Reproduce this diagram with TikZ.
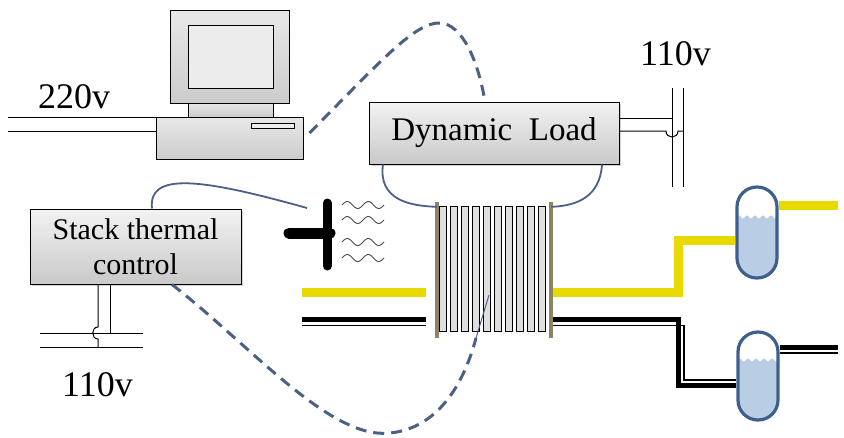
\documentclass[tikz,border=0pt]{standalone}
\usepackage{fontspec}
\setmainfont{Liberation Serif}
\usetikzlibrary{shadows}
\definecolor{wireblue}{HTML}{4A6185}
\definecolor{hyellow}{HTML}{E8DA00}
\definecolor{plategold}{HTML}{8C8660}
\definecolor{tankblue}{HTML}{3E5F8C}
\definecolor{waterblue}{HTML}{B9CDE5}
\begin{document}
\begin{tikzpicture}[x=1pt,y=-1pt,
  box/.style={draw,line width=1pt,top color=gray!10,bottom color=gray!42,
    drop shadow={shadow xshift=2pt,shadow yshift=-2pt,opacity=0.35}},
  pcpart/.style={draw,line width=1pt,top color=gray!18,bottom color=gray!40},
  wire/.style={color=wireblue,line width=1.8pt},
  link/.style={color=wireblue,line width=3pt,dash pattern=on 11pt off 7pt},
  power/.style={line width=1pt},
  htwo/.style={color=hyellow,line width=9pt},
  otwo/.style={line width=5pt},
  otworail/.style={line width=1.2pt},
  blade/.style={line cap=round},
  tank/.style={draw=tankblue,line width=3.2pt,rounded corners=19.9pt,
    minimum width=40pt,inner sep=0pt},
  volt/.style={font=\fontsize{36}{40}\selectfont,anchor=base west,inner sep=0pt}]
\useasboundingbox (0,0) rectangle (844,437);

% computer
\draw[pcpart] (170,10) rectangle (289,103);
\draw[line width=1pt,fill=gray!15] (188,25) rectangle (273,88);
\draw[pcpart] (188,103) rectangle (273,117);
\node[pcpart,minimum width=147pt,minimum height=42pt,inner sep=0pt] (pc) at (229.5,138) {};
\draw[line width=1pt,fill=gray!15] (251,123) rectangle (294,128);
\node[volt] (v220) at (38,108) {220v};
\coordinate (plugA) at (8,117);
\coordinate (plugB) at (8,131);
\draw[power] (plugA) -- (plugA -| pc.west);
\draw[power] (plugB) -- (plugB -| pc.west);

% boxes
\node[box,minimum width=250pt,minimum height=62pt,font=\fontsize{33}{36}\selectfont] (load) at (494,133) {Dynamic\ \ Load};
\node[box,minimum width=211pt,minimum height=75pt,align=center,font=\fontsize{30}{35}\selectfont] (thermal) at (135.5,246.5) {Stack thermal\\control};

% 110v supply of the load
\node[volt] (v110a) at (640,65) {110v};
\draw[power] (672,88) -- (672,187);
\draw[power] (683,88) -- (683,187);
\draw[power] ([yshift=15pt]load.east) -- (672,118);
\draw[power] ([yshift=2pt]load.east) -- (666,131) .. controls (666,139) and (678,139) .. (678,131) -- (683,131);

% 110v supply of the thermal control
\draw[power] ([xshift=-37.5pt]thermal.south) -- (98,327) .. controls (91,327) and (91,339) .. (98,339) -- (98,347);
\draw[power] ([xshift=-25.5pt]thermal.south) -- (110,333);
\draw[power] (40,333) -- (143,333);
\draw[power] (40,347) -- (143,347);
\node[volt] (v110b) at (62,396) {110v};

% fan
\draw[blade,line width=11pt] (289,233) -- (330,233);
\draw[blade,line width=9pt] (327,203) -- (327,266);
\coordinate (fan) at (307,208);
\foreach \h in {205,220,242,258}
  \draw[line width=0.9pt,color=gray!60!black] plot[domain=0:42,samples=43,smooth] ({342+\x},{\h-3.5*sin(\x*360/21)});

% stack
\node[minimum width=118pt,minimum height=136pt,inner sep=0pt] (stack) at (494,270) {};
\fill[plategold] (stack.north west) rectangle ++(4,136);
\fill[plategold] (stack.north east) rectangle ++(-4,136);
\foreach \i in {0,...,9}
  \draw[line width=1pt,fill=gray!25] ({439+11*\i},206) rectangle ++(7,125);

% wiring
\draw[wire] ([xshift=-111pt]load.south) .. controls (378,200) and (410,206) .. ([xshift=2pt,yshift=-5pt]stack.north west);
\draw[wire] ([xshift=108pt]load.south) .. controls (600,196) and (578,206) .. ([xshift=-2pt,yshift=-5pt]stack.north east);
\draw[wire] ([xshift=16.5pt]thermal.north) .. controls (148,172) and (200,178) .. (fan);
\draw[link] ([xshift=6pt,yshift=5pt]pc.east) .. controls (380,62) and (415,22) .. (440,23)
  .. controls (462,24) and (478,60) .. ([xshift=-9pt]load.north);
\coordinate (probe) at (476,338);
\draw[link] ([xshift=36.5pt]thermal.south) .. controls (250,345) and (330,440) .. (390,433)
  .. controls (440,428) and (465,380) .. (probe);
\draw[color=wireblue,line width=1pt] (probe) -- (489,295);

% tanks
\begin{scope}
\clip[rounded corners=19.9pt] (737,187) rectangle (777,278);
\fill[waterblue] plot[domain=737:777,samples=41] (\x,{217-1.5*sin((\x-737)*360/8)}) -- (777,280) -- (737,280) -- cycle;
\end{scope}
\node[tank,minimum height=91pt] (tankA) at (757,232.5) {};
\begin{scope}
\clip[rounded corners=19.9pt] (738,332) rectangle (778,420);
\fill[waterblue] plot[domain=738:778,samples=41] (\x,{360-1.5*sin((\x-738)*360/8)}) -- (778,422) -- (738,422) -- cycle;
\end{scope}
\node[tank,minimum height=88pt] (tankB) at (758,376) {};

% hydrogen line
\draw[htwo] (302,292) -- (426,292);
\draw[htwo] ([yshift=-22pt]stack.east) -- (678,292) -- (678,240) -- ([yshift=-7.5pt]tankA.west);
\draw[htwo] ([yshift=27.5pt]tankA.east) -- (838,205);

% oxygen line
\draw[otwo] (302,319) -- (426,319);
\draw[otworail] (302,325.5) -- (426,325.5);
\draw[otwo] ([yshift=-49pt]stack.east) -- (678,319) -- (678,385) -- ([yshift=-9pt]tankB.west);
\draw[otworail] ([yshift=-55.5pt]stack.east) -- (684,325.5) -- (684,380) -- ([yshift=-4pt]tankB.west);
\draw[otwo] ([yshift=29pt]tankB.east) -- (838,347);
\draw[otworail] ([yshift=23pt]tankB.east) -- (838,353);
\end{tikzpicture}
\end{document}
